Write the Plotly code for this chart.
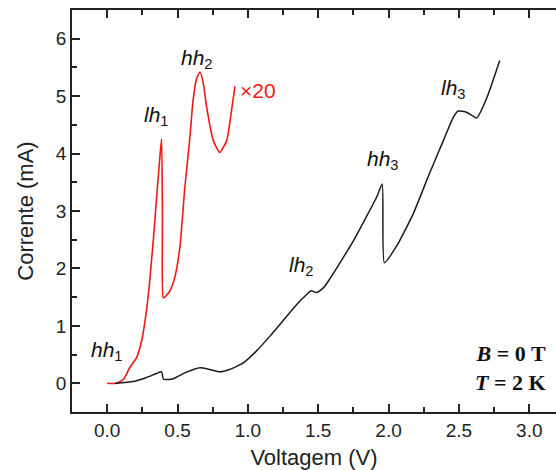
import plotly.graph_objects as go

# Red curve (x20)
red_v = [0.00, 0.07, 0.12, 0.16, 0.21, 0.245, 0.28, 0.30, 0.33, 0.355, 0.375, 0.387,
         0.393, 0.398, 0.41, 0.446, 0.48, 0.517, 0.552, 0.588, 0.61, 0.635, 0.66,
         0.685, 0.707, 0.754, 0.80, 0.85, 0.884, 0.908]
red_i = [0.0, 0.0, 0.08, 0.27, 0.45, 0.74, 1.28, 1.72, 2.55, 3.35, 3.95, 4.26,
         2.90, 1.49, 1.50, 1.61, 1.84, 2.37, 3.41, 4.28, 4.92, 5.30, 5.42,
         5.20, 4.81, 4.23, 4.02, 4.23, 4.75, 5.17]

# Black curve
blk_v = [0.055, 0.185, 0.28, 0.35, 0.387, 0.40, 0.47, 0.56, 0.66, 0.73, 0.80, 0.87,
         0.97, 1.06, 1.16, 1.25, 1.35, 1.42, 1.45, 1.49, 1.54, 1.58, 1.65, 1.75,
         1.84, 1.915, 1.955, 1.97, 2.06, 2.175, 2.29, 2.39, 2.46, 2.495, 2.555,
         2.626, 2.70, 2.79]
blk_i = [0.0, 0.03, 0.10, 0.17, 0.20, 0.07, 0.08, 0.19, 0.27, 0.24, 0.20, 0.24,
         0.36, 0.56, 0.83, 1.09, 1.38, 1.55, 1.61, 1.58, 1.67, 1.81, 2.08, 2.48,
         2.89, 3.24, 3.47, 2.10, 2.40, 2.95, 3.65, 4.23, 4.63, 4.74, 4.72,
         4.62, 4.98, 5.62]

# Peak labels
lab_text = ["<i>hh</i><sub>1</sub>", "<i>lh</i><sub>1</sub>", "<i>hh</i><sub>2</sub>",
            "<i>lh</i><sub>2</sub>", "<i>hh</i><sub>3</sub>", "<i>lh</i><sub>3</sub>"]
lab_x = [0.0, 0.35, 0.64, 1.38, 1.96, 2.46]
lab_y = [0.57, 4.66, 5.65, 2.05, 3.88, 5.13]

x_ticks = [0.0, 0.5, 1.0, 1.5, 2.0, 2.5, 3.0]
x_ticklabels = ["0.0", "0.5", "1.0", "1.5", "2.0", "2.5", "3.0"]
y_ticks = [0, 1, 2, 3, 4, 5, 6]

FONT = "Liberation Sans, Arial, sans-serif"

fig = go.Figure()
fig.add_trace(go.Scatter(x=red_v, y=red_i, mode="lines",
                         line=dict(color="#f01818", width=1.6, shape="spline", smoothing=0.5),
                         showlegend=False))
fig.add_trace(go.Scatter(x=blk_v, y=blk_i, mode="lines",
                         line=dict(color="#1a1a1a", width=1.5, shape="spline", smoothing=0.5),
                         showlegend=False))

annotations = []
for t, x, y in zip(lab_text, lab_x, lab_y):
    annotations.append(dict(x=x, y=y, xref="x", yref="y", text=t, showarrow=False,
                            font=dict(family=FONT, size=21, color="#111111")))
annotations.append(dict(x=0.93, y=5.10, xref="x", yref="y", text="×20", showarrow=False,
                        xanchor="left", font=dict(family=FONT, size=21, color="#f01818")))
annotations.append(dict(x=3.13, y=0.27, xref="x", yref="y", xanchor="right", align="right",
                        text="<b><i>B</i> = 0 T</b><br><b><i>T</i> = 2 K</b>",
                        showarrow=False,
                        font=dict(family="Liberation Serif, Times New Roman, serif",
                                  size=22, color="#111111")))

fig.update_layout(
    width=556, height=470,
    margin=dict(l=72, r=0, t=10, b=58),
    paper_bgcolor="white", plot_bgcolor="white",
    annotations=annotations,
    font=dict(family=FONT, color="#222222"),
)
fig.update_xaxes(
    range=[-0.25, 3.19], tickvals=x_ticks, ticktext=x_ticklabels,
    ticks="inside", ticklen=8, tickwidth=1.5, tickcolor="#222",
    minor=dict(dtick=0.25, tick0=0, ticks="inside", ticklen=5, tickwidth=1.5, tickcolor="#222"),
    showline=True, linewidth=1.8, linecolor="#222", mirror="ticks",
    showgrid=False, zeroline=False,
    tickfont=dict(family=FONT, size=19, color="#222"),
    title=dict(text="Voltagem (V)", font=dict(family=FONT, size=22, color="#222"), standoff=12),
)
fig.update_yaxes(
    range=[-0.5, 6.5], tickvals=y_ticks,
    ticks="inside", ticklen=8, tickwidth=1.5, tickcolor="#222",
    minor=dict(dtick=0.5, tick0=0, ticks="inside", ticklen=5, tickwidth=1.5, tickcolor="#222"),
    showline=True, linewidth=1.8, linecolor="#222", mirror=False,
    showgrid=False, zeroline=False,
    tickfont=dict(family=FONT, size=19, color="#222"),
    title=dict(text="Corrente (mA)", font=dict(family=FONT, size=22, color="#222"), standoff=16),
)

fig.write_html("out.html")
